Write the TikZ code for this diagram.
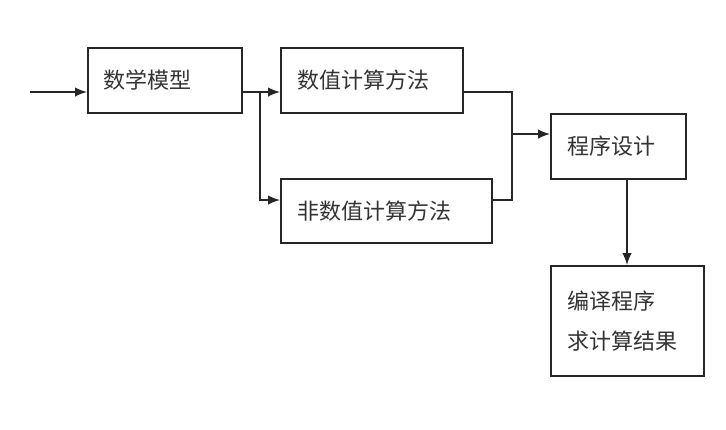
\documentclass[tikz,border=0pt]{standalone}
\usepackage{fontspec}
\newfontfamily\cjk{Noto Sans CJK SC}
\usetikzlibrary{arrows.meta}
\begin{document}
\begin{tikzpicture}[x=1bp,y=-1bp,
  box/.style={draw=black!85,line width=1.5bp,anchor=north west,inner xsep=0pt,inner ysep=0pt,
    font=\cjk\fontsize{22bp}{40bp}\selectfont,text=black!80,align=left},
  conn/.style={draw=black!85,line width=1.5bp},
  arr/.style={conn,-{Latex[length=12bp,width=9.5bp]}}]
\useasboundingbox[fill=white] (0,0) rectangle (726,429);
\node[box,minimum width=154bp,minimum height=65bp,text width=154bp] (b1) at (87,47) {\hspace*{16bp}数学模型};
\node[box,minimum width=182bp,minimum height=65bp,text width=182bp] (b2) at (280,47) {\hspace*{17bp}数值计算方法};
\node[box,minimum width=211bp,minimum height=64bp,text width=211bp] (b3) at (280,178) {\hspace*{17bp}非数值计算方法};
\node[box,minimum width=135bp,minimum height=65bp,text width=135bp] (b4) at (550,113) {\hspace*{17bp}程序设计};
\node[box,minimum width=153bp,minimum height=110bp,text width=153bp] (b5) at (550,265) {\hspace*{17bp}编译程序\\\hspace*{17bp}求计算结果};
\coordinate (in) at (30,92);
\coordinate (s1) at (260,92);
\coordinate (m1) at (512,92);
\coordinate (m2) at (512,200);
\coordinate (mj) at (512,134);
\draw[arr] (in) -- (in -| b1.west);
\draw[conn] (s1 -| b1.east) -- (s1);
\draw[arr] (s1) -- (s1 -| b2.west);
\draw[arr] (s1) |- (m2 -| b3.west);
\draw[conn] (m1 -| b2.east) -- (m1) -- (m2) -- (m2 -| b3.east);
\draw[arr] (mj) -- (mj -| b4.west);
\draw[arr] (627,0 |- b4.south) -- (627,0 |- b5.north);
\end{tikzpicture}
\end{document}
